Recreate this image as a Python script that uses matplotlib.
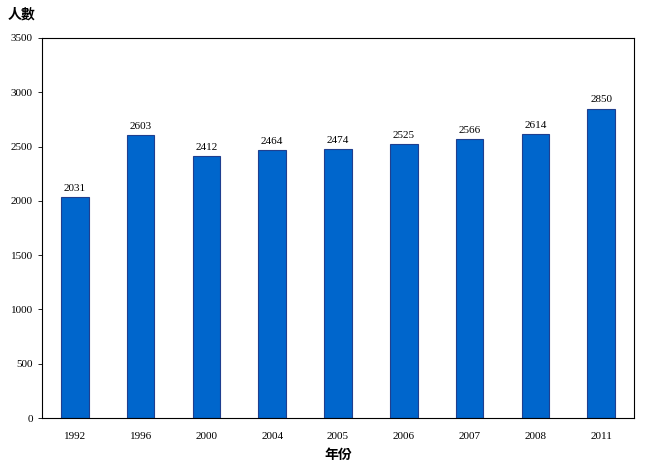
import matplotlib
matplotlib.use("Agg")
import matplotlib.pyplot as plt

years = ["1992","1996","2000","2004","2005","2006","2007","2008","2011"]
values = [2031,2603,2412,2464,2474,2525,2566,2614,2850]

fig = plt.figure(figsize=(6.55,4.72), dpi=100)
ax = fig.add_axes([42/655, 1-418/472, (634-42)/655, (418-38)/472])
x = range(len(years))
ax.bar(x, values, width=0.42, color="#0066CC", edgecolor="#1F3F8F", linewidth=0.8)
for i, v in zip(x, values):
    ax.text(i, v+40, str(v), ha="center", va="bottom", fontsize=8, family="Liberation Serif")
ax.set_xlim(-0.5, len(years)-0.5)
ax.set_ylim(0, 3500)
ax.set_yticks(range(0, 3501, 500))
ax.set_xticks(list(x))
ax.set_xticklabels(years)
for lab in ax.get_xticklabels()+ax.get_yticklabels():
    lab.set_family("Liberation Serif"); lab.set_fontsize(8)
ax.tick_params(axis="both", direction="out", length=3, width=0.6)
ax.tick_params(axis="x", length=0, pad=10)
for s in ax.spines.values():
    s.set_linewidth(0.8)
fig.text(8/655, 1-15/472, "人數", fontsize=10, fontweight="bold", va="center",
         family=["Noto Sans CJK TC"])
fig.text(338/655, 1-455/472, "年份", fontsize=10, fontweight="bold", ha="center", va="center",
         family=["Noto Sans CJK TC"])
fig.savefig("out.png", dpi=100)
